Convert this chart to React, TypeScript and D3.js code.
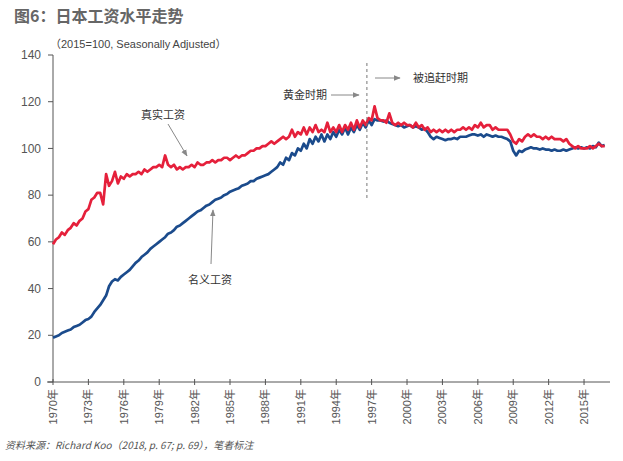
import React from 'react';
import * as d3 from 'd3';

// quarterly values, starting 1970 Q1
const startYear = 1970;
const realWage = [
  59, 61, 62, 64,
  63, 65, 66, 68,
  67, 69, 70, 73,
  74, 78, 79, 81,
  81, 76, 89, 84,
  86, 90, 85, 88,
  87, 89, 88, 89,
  89, 90, 89, 91,
  90, 91, 92, 92,
  93, 92, 97, 93,
  92, 93, 91, 92,
  91, 92, 92, 93,
  92, 94, 93, 93,
  94, 94, 95, 94,
  95, 95, 96, 96,
  95, 96, 97, 96,
  97, 97, 98, 99,
  99, 100, 100, 101,
  101, 102, 103, 102,
  103, 104, 105, 104,
  105, 108, 105, 107,
  106, 109, 106, 109,
  107, 110, 107, 108,
  107, 111, 107, 109,
  107, 110, 107, 110,
  108, 111, 108, 112,
  109, 112, 110, 113,
  112, 118, 113, 112,
  112, 111, 115, 111,
  110, 111, 110, 111,
  110, 110, 109, 111,
  109, 110, 108, 109,
  107, 108, 107, 108,
  107, 108, 107, 108,
  107, 108, 108, 109,
  108, 109, 108, 110,
  109, 111, 109, 110,
  110, 108, 109, 108,
  108, 108, 108, 106,
  103, 102, 104, 103,
  105, 106, 105, 106,
  105, 105, 104, 105,
  104, 105, 104, 104,
  104, 103, 104, 102,
  101, 100, 101, 100,
  100, 100, 101, 100,
  101, 102, 101, 101,
];
const nominalWage = [
  19, 19.5, 20, 21,
  21.5, 22, 22.5, 23.5,
  24, 24.5, 25.5, 26.5,
  27, 28, 30, 31.5,
  33, 35, 37, 41,
  43, 44, 43.5, 45,
  46, 47, 48, 49.5,
  51, 52, 53.5, 54.5,
  55.5, 57, 58, 59,
  60, 61, 62, 63.5,
  64, 65, 66.5, 67,
  68, 69, 70, 71,
  72, 73, 73.5, 74.5,
  75.5, 76, 77, 78,
  78.5, 79, 80, 80.5,
  81.5, 82, 82.5, 83,
  84, 84.5, 85, 86,
  86, 87, 87.5, 88,
  88.5, 89, 90, 91,
  92, 94, 93, 96,
  95, 98, 97, 100,
  99, 102, 100, 104,
  102, 105, 103, 106,
  103, 106, 104, 107,
  105, 108, 106, 109,
  106, 109, 107, 110,
  108, 111, 109, 112,
  110, 112.5, 112, 112,
  111.5, 112, 111, 110.5,
  110, 109.5, 110, 109,
  109.5, 110, 109, 109.5,
  109, 108, 108.5, 107,
  105, 104, 105, 104.5,
  104, 103.5, 104, 104,
  104.5, 104, 105, 105,
  105, 105.5, 106, 106,
  105.5, 106, 105, 106,
  105.5, 105, 105.5, 105,
  105, 104.5, 104, 103,
  99, 97, 99, 98.5,
  99.5, 100, 100.5, 100,
  100, 99.5, 100, 99.5,
  99.5, 99, 99.5, 99,
  99, 99.5, 99, 99.5,
  100, 100.5, 100, 100.5,
  100, 100.5, 100, 101,
  100.5, 102.5, 101, 101.5,
];
const xTicks = [1970, 1973, 1976, 1979, 1982, 1985, 1988, 1991, 1994, 1997, 2000, 2003, 2006, 2009, 2012, 2015];
const yTicks = [0, 20, 40, 60, 80, 100, 120, 140];
const splitYear = 1996.6;

const font = "'Liberation Sans', Arial, 'Noto Sans CJK SC', sans-serif";
const cjk = "'Noto Sans CJK SC', sans-serif";

export default function App() {
  const x = d3.scaleLinear().domain([1970, 2017.2]).range([53, 610]);
  const y = d3.scaleLinear().domain([0, 140]).range([382, 55]);
  const line = d3.line<number>()
    .x((_, i) => x(startYear + i / 4))
    .y(d => y(d));

  return (
    <svg width={623} height={461} style={{ position: 'absolute', left: 0, top: 0, background: '#fff' }}>
      <defs>
        <marker id="arr" viewBox="0 0 10 10" refX="9" refY="5" markerWidth="7" markerHeight="7" orient="auto-start-reverse">
          <path d="M0,1 L10,5 L0,9 z" fill="#888" />
        </marker>
      </defs>
      <text x={14} y={22} fontFamily={cjk} fontSize={16} fontWeight="bold" fill="#666">图6：日本工资水平走势</text>
      <text x={50} y={48} fontFamily={font} fontSize={11} fill="#444">（2015=100, Seasonally Adjusted）</text>

      {/* y axis */}
      <line x1={53} x2={53} y1={y(140)} y2={y(0)} stroke="#555" />
      {yTicks.map(t => (
        <g key={t}>
          <line x1={48} x2={53} y1={y(t)} y2={y(t)} stroke="#555" />
          <text x={41} y={y(t)} dy="0.35em" textAnchor="end" fontFamily={font} fontSize={12} fill="#555">{t}</text>
        </g>
      ))}

      {/* x axis */}
      <line x1={47} x2={610} y1={y(0)} y2={y(0)} stroke="#555" />
      {xTicks.map(t => (
        <g key={t}>
          <line x1={x(t)} x2={x(t)} y1={y(0) - 3} y2={y(0) + 3} stroke="#555" />
          <text transform={`translate(${x(t) + 4},${y(0) + 7}) rotate(-90)`} textAnchor="end" fontFamily={font} fontSize={11} fill="#555">{t}年</text>
        </g>
      ))}

      <path d={line(nominalWage) || ''} fill="none" stroke="#1b4b8c" strokeWidth={2.7} strokeLinejoin="round" />
      <path d={line(realWage) || ''} fill="none" stroke="#e5203b" strokeWidth={2.7} strokeLinejoin="round" />

      {/* split line */}
      <line x1={x(splitYear)} x2={x(splitYear)} y1={63} y2={200} stroke="#777" strokeDasharray="3,3" />

      {/* annotations */}
      <text x={283} y={99} fontFamily={cjk} fontSize={11} fill="#333">黄金时期</text>
      <line x1={331} x2={359} y1={95} y2={95} stroke="#888" markerEnd="url(#arr)" />
      <text x={413} y={82} fontFamily={cjk} fontSize={11} fill="#333">被追赶时期</text>
      <line x1={375} x2={400} y1={78} y2={78} stroke="#888" markerEnd="url(#arr)" />
      <text x={141} y={119} fontFamily={cjk} fontSize={11} fill="#333">真实工资</text>
      <line x1={168} x2={187} y1={124} y2={156} stroke="#888" markerEnd="url(#arr)" />
      <text x={188} y={284} fontFamily={cjk} fontSize={11} fill="#333">名义工资</text>
      <line x1={211} x2={213} y1={264} y2={210} stroke="#888" markerEnd="url(#arr)" />

      <text x={5} y={449} fontFamily={cjk} fontSize={10} fontStyle="italic" fill="#555">资料来源：Richard Koo（2018, p. 67; p. 69），笔者标注</text>
    </svg>
  );
}
